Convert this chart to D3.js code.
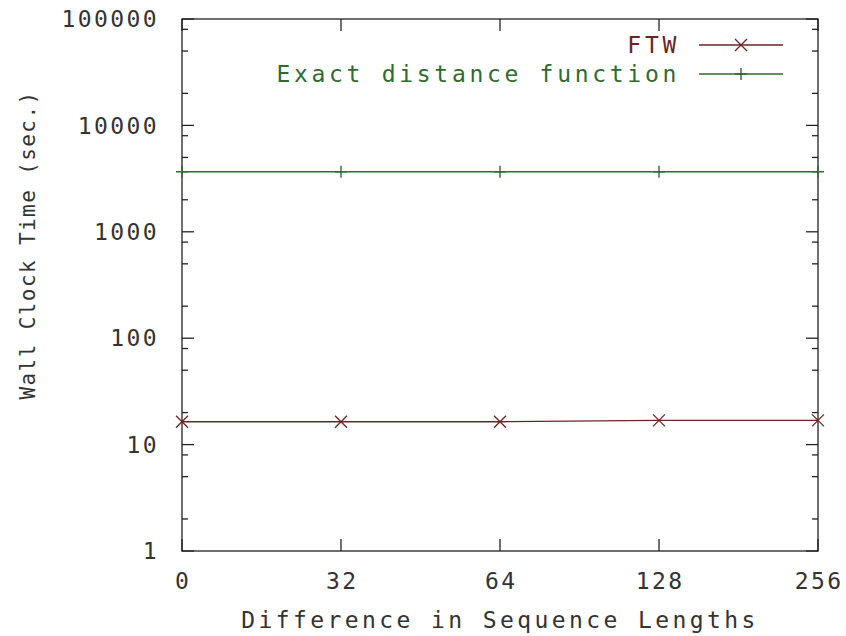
<!DOCTYPE html>
<html>
<head>
<meta charset="utf-8">
<script src="https://cdn.jsdelivr.net/npm/d3@7"></script>
<style>
  html, body { margin: 0; padding: 0; background: #fff; }
  svg text { font-family: "DejaVu Sans Mono", "Liberation Mono", monospace; fill: #333; }
</style>
</head>
<body>
<svg id="chart" width="846" height="636"></svg>
<script>
// Categories on the x axis (evenly spaced)
const categories = ["0", "32", "64", "128", "256"];
// Wall clock time in seconds for each method
const ftwTimes = [16.4, 16.4, 16.4, 16.9, 16.9];
const exactTimes = [3670, 3670, 3670, 3670, 3670];
// Major ticks on the log y axis
const yTickValues = [1, 10, 100, 1000, 10000, 100000];
const yTickLabels = ["1", "10", "100", "1000", "10000", "100000"];
// Minor tick multipliers within each decade
const minorMultipliers = [2, 5, 8];

const seriesNames = ["FTW", "Exact distance function"];
const seriesColors = ["#6a2424", "#2f6a2f"];

const svg = d3.select("#chart");
const margin = { left: 182, right: 28, top: 19, bottom: 85 };
const W = 846, H = 636;
const x0 = margin.left, x1 = W - margin.right, y0 = margin.top, y1 = H - margin.bottom;

const x = d3.scalePoint().domain(categories).range([x0, x1]);
const y = d3.scaleLog().domain([1, 100000]).range([y1, y0]);

const axisColor = "#222";
const g = svg.append("g");

// Major and minor ticks on all four sides, pointing inward
const minorVals = [];
yTickValues.slice(0, -1).forEach(v => minorMultipliers.forEach(m => minorVals.push(v * m)));

const tickG = g.append("g").attr("stroke", axisColor).attr("stroke-width", 1.3);
yTickValues.forEach(v => {
  tickG.append("line").attr("x1", x0).attr("x2", x0 + 12).attr("y1", y(v)).attr("y2", y(v));
  tickG.append("line").attr("x1", x1).attr("x2", x1 - 12).attr("y1", y(v)).attr("y2", y(v));
});
minorVals.forEach(v => {
  tickG.append("line").attr("x1", x0).attr("x2", x0 + 6).attr("y1", y(v)).attr("y2", y(v));
  tickG.append("line").attr("x1", x1).attr("x2", x1 - 6).attr("y1", y(v)).attr("y2", y(v));
});
categories.forEach(c => {
  tickG.append("line").attr("x1", x(c)).attr("x2", x(c)).attr("y1", y1).attr("y2", y1 - 12);
  tickG.append("line").attr("x1", x(c)).attr("x2", x(c)).attr("y1", y0).attr("y2", y0 + 12);
});

// Plot frame
g.append("rect")
  .attr("x", x0).attr("y", y0).attr("width", x1 - x0).attr("height", y1 - y0)
  .attr("fill", "none").attr("stroke", axisColor).attr("stroke-width", 1.3);

// Tick labels
const fs = 23;
yTickValues.forEach((v, i) => {
  g.append("text").attr("x", 159).attr("y", y(v)).attr("dy", "0.36em")
    .attr("text-anchor", "end").attr("font-size", fs).attr("letter-spacing", 2.4)
    .text(yTickLabels[i]);
});
categories.forEach(c => {
  g.append("text").attr("x", x(c) + 1.2).attr("y", 581).attr("dy", "0.36em")
    .attr("text-anchor", "middle").attr("font-size", fs).attr("letter-spacing", 2.4)
    .text(c);
});

// Axis titles
g.append("text").attr("x", (x0 + x1) / 2).attr("y", 620).attr("dy", "0.36em")
  .attr("text-anchor", "middle").attr("font-size", fs).attr("letter-spacing", 3.4)
  .text("Difference in Sequence Lengths");
g.append("text")
  .attr("transform", `translate(27,245) rotate(-90)`)
  .attr("dy", "0.36em").attr("text-anchor", "middle")
  .attr("font-size", 21).attr("letter-spacing", 1.4)
  .text("Wall Clock Time (sec.)");

// Marker shapes
function crossMark(sel, px, py, color) {
  const s = 6;
  sel.append("path")
    .attr("d", `M${px - s},${py - s}L${px + s},${py + s}M${px - s},${py + s}L${px + s},${py - s}`)
    .attr("stroke", color).attr("stroke-width", 1.3).attr("fill", "none");
}
function plusMark(sel, px, py, color) {
  const s = 6;
  sel.append("path")
    .attr("d", `M${px - s},${py}L${px + s},${py}M${px},${py - s}L${px},${py + s}`)
    .attr("stroke", color).attr("stroke-width", 1.4).attr("fill", "none");
}

const seriesData = [ftwTimes, exactTimes];
const markers = [crossMark, plusMark];
const line = d3.line().x(d => x(d.c)).y(d => y(d.v));

seriesData.forEach((vals, si) => {
  const pts = categories.map((c, i) => ({ c, v: vals[i] }));
  const sg = g.append("g");
  sg.append("path").datum(pts).attr("d", line)
    .attr("fill", "none").attr("stroke", seriesColors[si]).attr("stroke-width", 1.4);
  pts.forEach(p => markers[si](sg, x(p.c), y(p.v), seriesColors[si]));
});

// Legend
const legendRows = [45, 74];
seriesNames.forEach((name, si) => {
  const ly = legendRows[si];
  g.append("text").attr("x", 680).attr("y", ly).attr("dy", "0.36em")
    .attr("text-anchor", "end").attr("font-size", fs).attr("letter-spacing", 3.7)
    .style("fill", seriesColors[si]).text(name);
  g.append("line").attr("x1", 699).attr("x2", 783).attr("y1", ly).attr("y2", ly)
    .attr("stroke", seriesColors[si]).attr("stroke-width", 1.4);
  markers[si](g, 741, ly, seriesColors[si]);
});
</script>
</body>
</html>
